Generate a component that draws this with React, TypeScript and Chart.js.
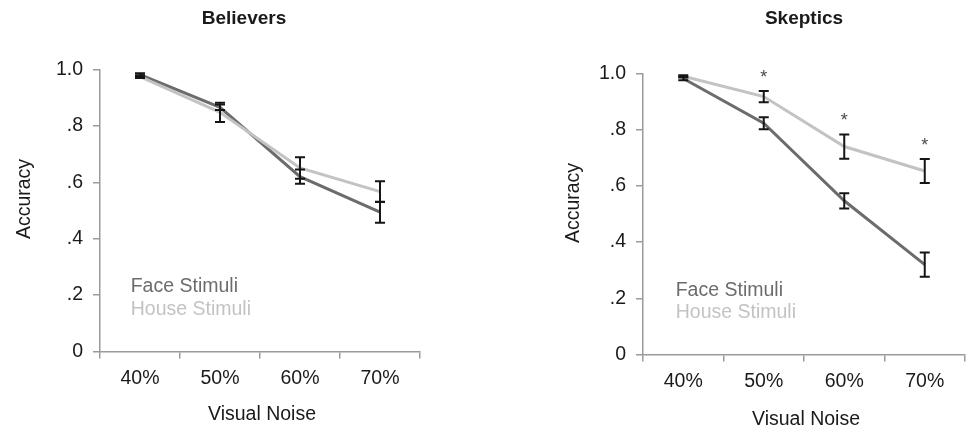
import React, { useEffect, useRef } from "react";
import { Chart, registerables } from "chart.js";

Chart.register(...registerables);

const FONT = '"Liberation Sans", Arimo, Arial, Helvetica, sans-serif';
const FACE_COLOR = "#6c6c6c";
const HOUSE_COLOR = "#c3c3c3";
const AXIS_COLOR = "#9a9a9a";
const TEXT_COLOR = "#1a1a1a";
const TEXT_SIZE = 19.5;

// ---- data ----
const noiseLevels = ["40%", "50%", "60%", "70%"];
const yTickValues = [0, 0.2, 0.4, 0.6, 0.8, 1.0];
const yTickLabels = ["0", ".2", ".4", ".6", ".8", "1.0"];
const seriesNames = ["Face Stimuli", "House Stimuli"];

const believersFace = [0.982, 0.866, 0.62, 0.494];
const believersFaceErr = [0.005, 0.01, 0.025, 0.037];
const believersHouse = [0.975, 0.848, 0.651, 0.567];
const believersHouseErr = [0.005, 0.034, 0.038, 0.037];
const believersSignificant = [false, false, false, false];

const skepticsFace = [0.982, 0.823, 0.547, 0.32];
const skepticsFaceErr = [0.006, 0.021, 0.027, 0.043];
const skepticsHouse = [0.99, 0.918, 0.74, 0.653];
const skepticsHouseErr = [0.004, 0.02, 0.043, 0.043];
const skepticsSignificant = [false, true, true, true];

type PanelProps = {
  title: string;
  face: number[];
  faceErr: number[];
  house: number[];
  houseErr: number[];
  significant: boolean[];
  left: number;
  width: number;
  area: { top: number; bottom: number; left: number; right: number };
  titleX: number;
  yTitleX: number;
  yTitleY: number;
  xTitleY: number;
  legendDx: number;
  legendDy: number;
};

function makeDecor(p: PanelProps) {
  return {
    id: "decor",
    afterDatasetsDraw(chart: any) {
      const ctx = chart.ctx;
      const ys = chart.scales.y;
      ctx.save();
      ctx.strokeStyle = "#151515";
      ctx.lineWidth = 2;
      ctx.lineCap = "butt";
      chart.data.datasets.forEach((ds: any, di: number) => {
        const meta = chart.getDatasetMeta(di);
        ds.errors.forEach((e: number, i: number) => {
          const v = ds.data[i];
          const px = meta.data[i].x;
          const yt = ys.getPixelForValue(v + e);
          const yb = ys.getPixelForValue(v - e);
          ctx.beginPath();
          ctx.moveTo(px, yt);
          ctx.lineTo(px, yb);
          ctx.moveTo(px - 5, yt);
          ctx.lineTo(px + 5, yt);
          ctx.moveTo(px - 5, yb);
          ctx.lineTo(px + 5, yb);
          ctx.stroke();
        });
      });
      // significance asterisks above house error bars
      const houseMeta = chart.getDatasetMeta(1);
      ctx.fillStyle = "#4a4a4a";
      ctx.font = `18px ${FONT}`;
      ctx.textAlign = "center";
      ctx.textBaseline = "alphabetic";
      p.significant.forEach((s, i) => {
        if (!s) return;
        const px = houseMeta.data[i].x;
        const top = ys.getPixelForValue(p.house[i] + p.houseErr[i]);
        ctx.fillText("*", px, top - 20 + 12);
      });
      ctx.restore();
    },
    afterDraw(chart: any) {
      const ctx = chart.ctx;
      const ca = chart.chartArea;
      ctx.save();
      // title
      ctx.fillStyle = TEXT_COLOR;
      ctx.font = `bold 19px ${FONT}`;
      ctx.textAlign = "center";
      ctx.textBaseline = "alphabetic";
      ctx.fillText(p.title, p.titleX, 24);
      // x axis title
      ctx.font = `${TEXT_SIZE}px ${FONT}`;
      ctx.fillText("Visual Noise", (ca.left + ca.right) / 2 + 2, p.xTitleY);
      // y axis title
      ctx.save();
      ctx.translate(p.yTitleX, p.yTitleY);
      ctx.rotate(-Math.PI / 2);
      ctx.fillText("Accuracy", 0, 0);
      ctx.restore();
      // legend
      ctx.textAlign = "left";
      chart.data.datasets.forEach((ds: any, di: number) => {
        ctx.fillStyle = ds.borderColor;
        ctx.fillText(ds.label, ca.left + p.legendDx, ca.bottom - p.legendDy + di * 22.5);
      });
      ctx.restore();
    },
  };
}

function Panel(p: PanelProps) {
  const ref = useRef<HTMLCanvasElement | null>(null);
  useEffect(() => {
    if (!ref.current) return;
    const chart = new Chart(ref.current, {
      type: "line",
      data: {
        labels: noiseLevels,
        datasets: [
          {
            label: seriesNames[0],
            data: p.face,
            errors: p.faceErr,
            borderColor: FACE_COLOR,
            backgroundColor: FACE_COLOR,
            borderWidth: 3,
            pointRadius: 0,
            tension: 0,
            order: 2,
          } as any,
          {
            label: seriesNames[1],
            data: p.house,
            errors: p.houseErr,
            borderColor: HOUSE_COLOR,
            backgroundColor: HOUSE_COLOR,
            borderWidth: 3,
            pointRadius: 0,
            tension: 0,
            order: 1,
          } as any,
        ],
      },
      options: {
        responsive: false,
        animation: false,
        events: [],
        layout: {
          padding: {
            top: p.area.top,
            left: 0,
            right: p.width - p.area.right,
            bottom: 0,
          },
        },
        plugins: {
          legend: { display: false },
          title: { display: false },
          tooltip: { enabled: false },
        },
        scales: {
          x: {
            type: "category",
            offset: true,
            grid: {
              offset: true,
              drawOnChartArea: false,
              tickLength: 7,
              color: AXIS_COLOR,
              lineWidth: 1.5,
            },
            border: { color: AXIS_COLOR, width: 1.5 },
            ticks: {
              color: TEXT_COLOR,
              font: { family: FONT, size: TEXT_SIZE },
              padding: 8,
              maxRotation: 0,
            },
            afterFit: (s: any) => {
              s.height = 430 - p.area.bottom;
            },
          },
          y: {
            min: 0,
            max: 1,
            grid: {
              drawOnChartArea: false,
              tickLength: 7,
              color: AXIS_COLOR,
              lineWidth: 1.5,
            },
            border: { color: AXIS_COLOR, width: 1.5 },
            ticks: {
              color: TEXT_COLOR,
              font: { family: FONT, size: TEXT_SIZE },
              padding: 10,
              callback: (v: any) => {
                const idx = yTickValues.findIndex((t) => Math.abs(t - Number(v)) < 1e-6);
                return idx >= 0 ? yTickLabels[idx] : "";
              },
            },
            afterBuildTicks: (s: any) => {
              s.ticks = yTickValues.map((v) => ({ value: v }));
            },
            afterFit: (s: any) => {
              s.width = p.area.left;
            },
          },
        },
      } as any,
      plugins: [makeDecor(p)],
    });
    return () => chart.destroy();
  }, []);
  return (
    <canvas
      ref={ref}
      width={p.width}
      height={430}
      style={{ position: "absolute", left: p.left, top: 0, width: p.width, height: 430 }}
    />
  );
}

export default function App() {
  return (
    <div
      style={{
        position: "absolute",
        left: 0,
        top: 0,
        width: 967,
        height: 430,
        background: "#ffffff",
        overflow: "hidden",
      }}
    >
      <Panel
        title="Believers"
        face={believersFace}
        faceErr={believersFaceErr}
        house={believersHouse}
        houseErr={believersHouseErr}
        significant={believersSignificant}
        left={0}
        width={483}
        area={{ top: 69.5, bottom: 351.5, left: 100, right: 420 }}
        titleX={244}
        yTitleX={30}
        yTitleY={199}
        xTitleY={420}
        legendDx={30.7}
        legendDy={59.5}
      />
      <Panel
        title="Skeptics"
        face={skepticsFace}
        faceErr={skepticsFaceErr}
        house={skepticsHouse}
        houseErr={skepticsHouseErr}
        significant={skepticsSignificant}
        left={483}
        width={484}
        area={{ top: 73.5, bottom: 354.5, left: 160, right: 482 }}
        titleX={321}
        yTitleX={95.5}
        yTitleY={203}
        xTitleY={425}
        legendDx={32.7}
        legendDy={59}
      />
    </div>
  );
}
